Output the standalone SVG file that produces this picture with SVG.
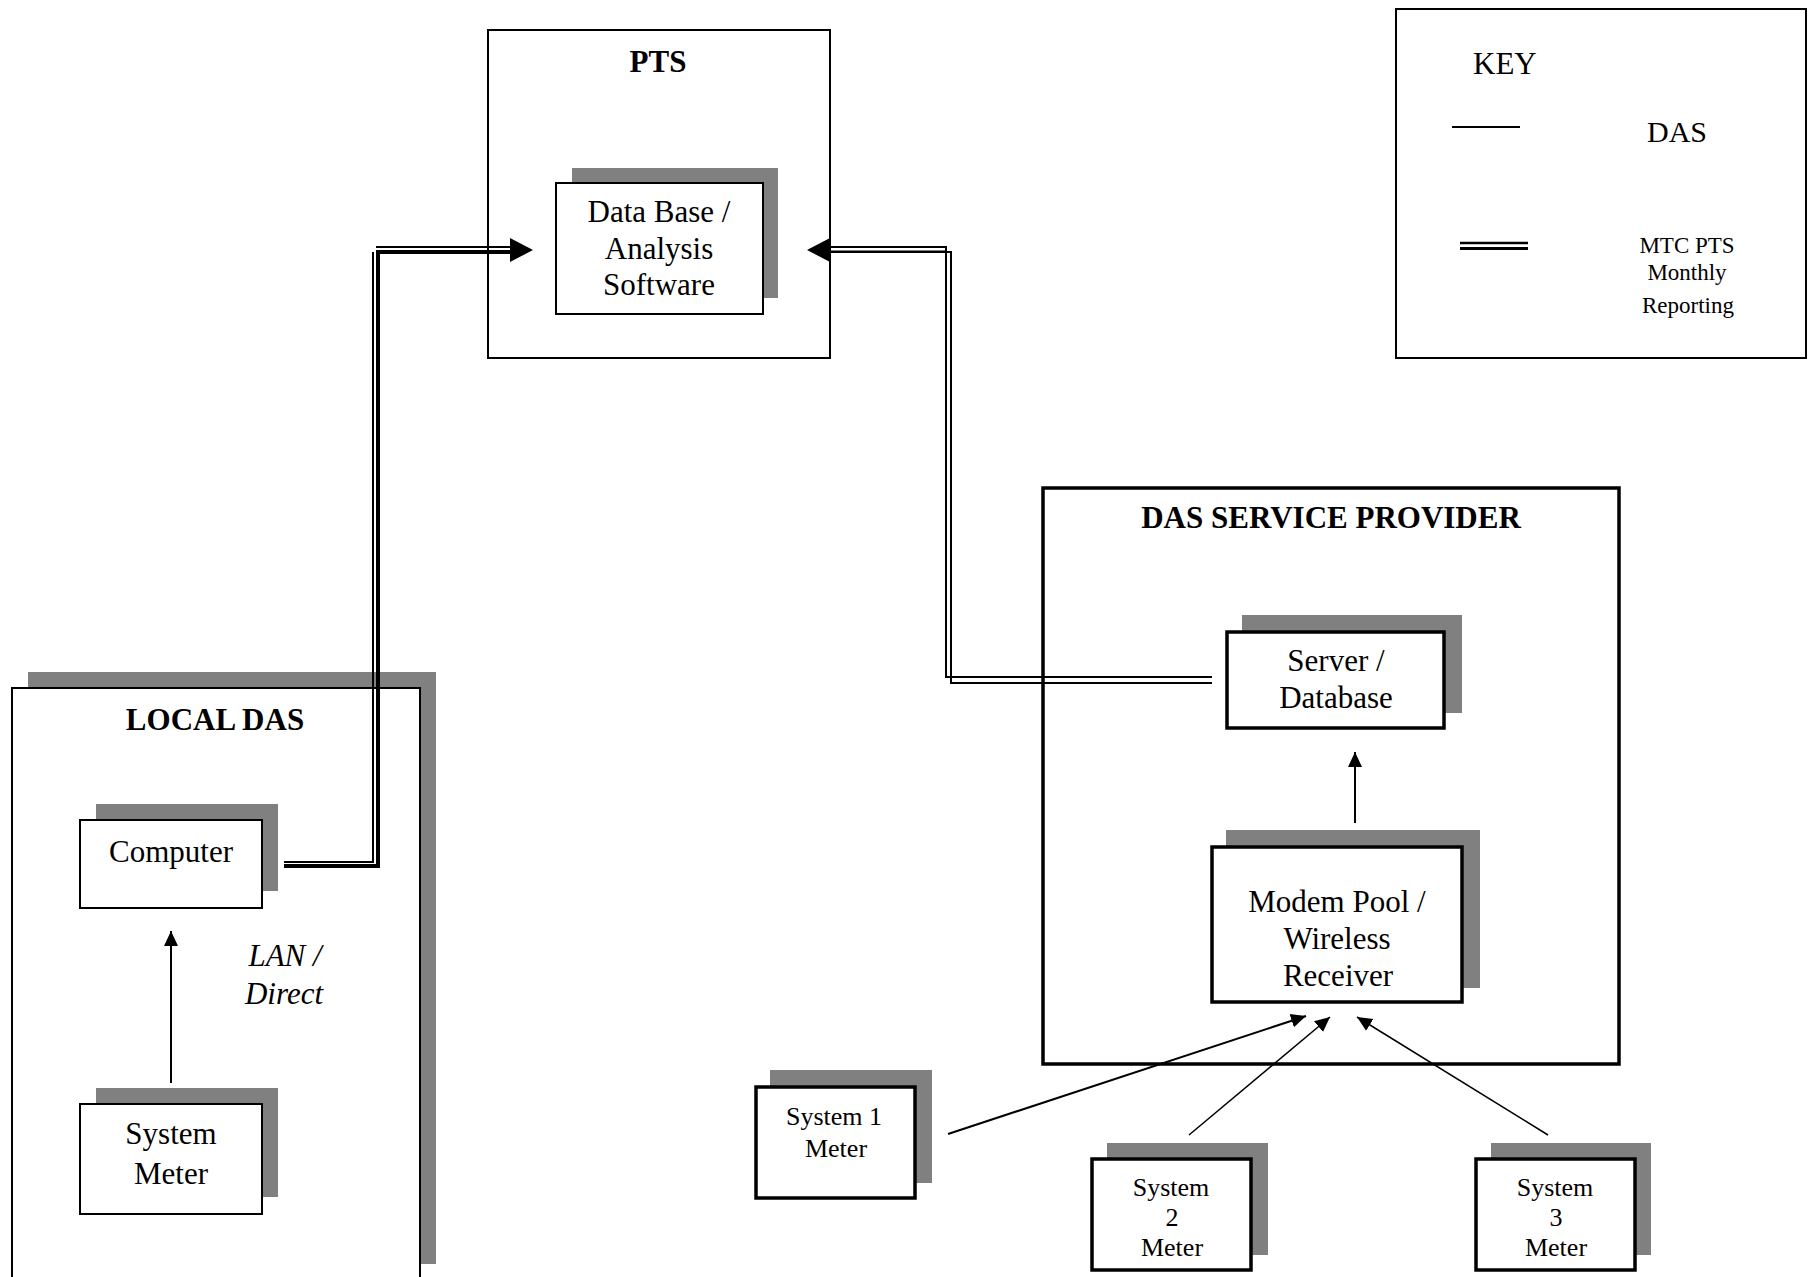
<svg xmlns="http://www.w3.org/2000/svg" width="1809" height="1277" viewBox="0 0 1809 1277">
<style>
  text { font-family: "Liberation Serif", "Times New Roman", serif; fill: #000; }
  .t { font-size: 31px; text-anchor: middle; }
  .b { font-size: 31px; font-weight: bold; text-anchor: middle; }
  .s { font-size: 26px; text-anchor: middle; }
  .k { font-size: 23px; text-anchor: middle; }
  .shadow { fill: #808080; stroke: none; }
  .box { fill: #fff; stroke: #000; stroke-width: 2; }
  .boxb { fill: #fff; stroke: #000; stroke-width: 3.5; }
  .frame { fill: none; stroke: #000; stroke-width: 2; }
  .frameb { fill: none; stroke: #000; stroke-width: 3.5; }
  .thin { fill: none; stroke: #000; stroke-width: 2; }
  .thick { fill: none; stroke: #000; stroke-width: 4; }
  .arr { fill: none; stroke: #000; stroke-width: 2; }
  .arr1 { fill: none; stroke: #000; stroke-width: 1.5; }
</style>
<defs>
  <marker id="ah" markerUnits="userSpaceOnUse" markerWidth="16" markerHeight="16" viewBox="0 0 16 16" refX="15" refY="8" orient="auto">
    <path d="M0,1 L15,8 L0,15 z" fill="#000"/>
  </marker>
</defs>
<rect width="1809" height="1277" fill="#fff"/>

<!-- KEY -->
<g id="key">
  <rect x="1396" y="9" width="410" height="349" class="frame"/>
  <text x="1473" y="74" font-size="31">KEY</text>
  <line x1="1452" y1="127" x2="1520" y2="127" stroke="#000" stroke-width="2"/>
  <text x="1647" y="142" font-size="30">DAS</text>
  <line x1="1460" y1="243" x2="1528" y2="243" stroke="#000" stroke-width="2.5"/>
  <line x1="1460" y1="248.5" x2="1528" y2="248.5" stroke="#000" stroke-width="3"/>
  <text class="k" x="1687" y="253">MTC PTS</text>
  <text class="k" x="1687" y="280">Monthly</text>
  <text class="k" x="1688" y="313">Reporting</text>
</g>

<!-- PTS -->
<g id="pts">
  <rect x="488" y="30" width="342" height="328" class="frame"/>
  <text class="b" x="658" y="72">PTS</text>
</g>
<g id="database">
  <rect x="572" y="168" width="206" height="130" class="shadow"/>
  <rect x="556" y="183" width="207" height="131" class="box"/>
  <text class="t" x="659" y="222">Data Base /</text>
  <text class="t" x="659" y="259">Analysis</text>
  <text class="t" x="659" y="295">Software</text>
</g>

<!-- LOCAL DAS -->
<g id="local-das">
  <path d="M28 672 H436 V1264 H420 V688 H28 Z" class="shadow"/>
  <path d="M12 1290 V688 H420 V1290" class="frame"/>
  <text class="b" x="215" y="730">LOCAL DAS</text>
</g>
<g id="computer">
  <rect x="96" y="804" width="182" height="87" class="shadow"/>
  <rect x="80" y="820" width="182" height="88" class="box"/>
  <text class="t" x="171" y="862">Computer</text>
</g>
<g id="system-meter">
  <rect x="96" y="1088" width="182" height="109" class="shadow"/>
  <rect x="80" y="1104" width="182" height="110" class="box"/>
  <text class="t" x="171" y="1144">System</text>
  <text class="t" x="171" y="1184">Meter</text>
</g>
<text x="285" y="966" font-size="31" font-style="italic" text-anchor="middle">LAN /</text>
<text x="284" y="1004" font-size="31" font-style="italic" text-anchor="middle">Direct</text>

<!-- DAS SERVICE PROVIDER -->
<g id="das-service-provider">
  <rect x="1043" y="488" width="576" height="576" class="frameb"/>
  <text class="b" x="1331" y="528">DAS SERVICE PROVIDER</text>
</g>
<g id="server">
  <rect x="1242" y="615" width="220" height="98" class="shadow"/>
  <rect x="1227" y="632" width="217" height="96" class="boxb"/>
  <text class="t" x="1336" y="671">Server /</text>
  <text class="t" x="1336" y="708">Database</text>
</g>
<g id="modem-pool">
  <rect x="1226" y="830" width="254" height="158" class="shadow"/>
  <rect x="1212" y="847" width="250" height="155" class="boxb"/>
  <text class="t" x="1337" y="912">Modem Pool /</text>
  <text class="t" x="1337" y="949">Wireless</text>
  <text class="t" x="1338" y="986">Receiver</text>
</g>
<g id="system1">
  <rect x="770" y="1070" width="162" height="113" class="shadow"/>
  <rect x="756" y="1087" width="159" height="111" class="boxb"/>
  <text class="s" x="834" y="1125">System 1</text>
  <text class="s" x="836" y="1157">Meter</text>
</g>
<g id="system2">
  <rect x="1107" y="1143" width="161" height="112" class="shadow"/>
  <rect x="1092" y="1159" width="159" height="111" class="boxb"/>
  <text class="s" x="1171" y="1196">System</text>
  <text class="s" x="1172" y="1226">2</text>
  <text class="s" x="1172" y="1256">Meter</text>
</g>
<g id="system3">
  <rect x="1491" y="1143" width="160" height="112" class="shadow"/>
  <rect x="1476" y="1159" width="159" height="111" class="boxb"/>
  <text class="s" x="1555" y="1196">System</text>
  <text class="s" x="1556" y="1226">3</text>
  <text class="s" x="1556" y="1256">Meter</text>
</g>

<!-- Connectors -->
<g id="connectors">
  <!-- Computer to PTS (double line) -->
  <path class="thin" d="M284 862 H373 V252"/>
  <path class="thin" d="M376 247 H512"/>
  <path class="thick" d="M284 866 H378 V252 H512"/>
  <polygon points="533,250 510,238 510,262" fill="#000"/>
  <!-- Server to PTS (double line) -->
  <path class="thin" d="M1212 677 H946 V247 H828"/>
  <path class="thin" d="M1212 683 H951 V252 H828"/>
  <line x1="828" y1="251.5" x2="946" y2="251.5" stroke="#000" stroke-width="2"/>
  <polygon points="807,250 830,238 830,262" fill="#000"/>
  <!-- single arrows -->
  <line x1="171" y1="1083" x2="171" y2="931" class="arr" marker-end="url(#ah)"/>
  <line x1="1355" y1="823" x2="1355" y2="752" class="arr" marker-end="url(#ah)"/>
  <line x1="948" y1="1134" x2="1306" y2="1016" class="arr" marker-end="url(#ah)"/>
  <line x1="1189" y1="1135" x2="1330" y2="1017" class="arr1" marker-end="url(#ah)"/>
  <line x1="1548" y1="1135" x2="1357" y2="1017" class="arr1" marker-end="url(#ah)"/>
</g>
</svg>
